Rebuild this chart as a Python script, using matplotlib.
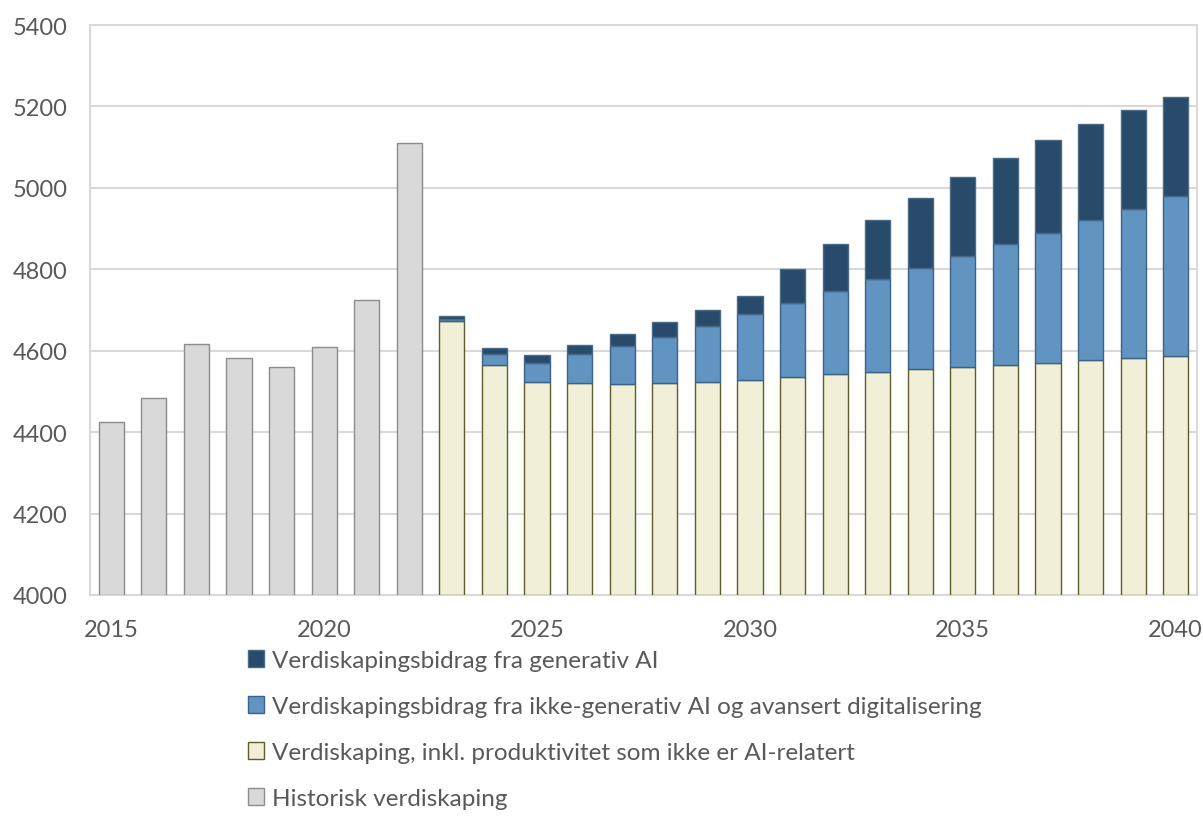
import matplotlib.pyplot as plt
import numpy as np

plt.rcParams["font.family"] = ["Lato", "DejaVu Sans"]

hist_years = np.arange(2015, 2023)
hist_values = [4424, 4484, 4617, 4583, 4560, 4610, 4724, 5111]

proj_years = np.arange(2023, 2041)
base_values = [4672, 4564, 4524, 4520, 4518, 4520, 4523, 4529, 4535,
               4542, 4548, 4554, 4560, 4565, 4571, 4576, 4583, 4588]
nongen_ai = [5, 29, 47, 71, 93, 114, 137, 160, 183,
             205, 227, 249, 273, 296, 319, 344, 366, 392]
gen_ai = [8, 13, 18, 23, 29, 36, 40, 46, 83,
          116, 145, 172, 193, 213, 228, 237, 243, 244]

labels = [
    "Verdiskapingsbidrag fra generativ AI",
    "Verdiskapingsbidrag fra ikke-generativ AI og avansert digitalisering",
    "Verdiskaping, inkl. produktivitet som ikke er AI-relatert",
    "Historisk verdiskaping",
]

DARK = "#284b6b"
BLUE = "#6194c1"
BEIGE = "#f1efd7"
GREY = "#d9d9d9"
TEXT = "#595959"
GRID = "#d9d9d9"

fig = plt.figure(figsize=(12.03, 8.37), dpi=100)
ax = fig.add_axes([90 / 1203, 1 - 596 / 837, 1107 / 1203, 570 / 837])

width = 0.59
base = np.array(base_values)
mid = base + np.array(nongen_ai)

h_hist = ax.bar(hist_years, np.array(hist_values) - 4000, width, bottom=4000,
                color=GREY, edgecolor="#8c8c8c", linewidth=1.0, zorder=3)
h_base = ax.bar(proj_years, base - 4000, width, bottom=4000,
                color=BEIGE, edgecolor="#5e5e2c", linewidth=1.0, zorder=3)
h_nongen = ax.bar(proj_years, nongen_ai, width, bottom=base,
                  color=BLUE, edgecolor="#3b6386", linewidth=1.0, zorder=3)
h_gen = ax.bar(proj_years, gen_ai, width, bottom=mid,
               color=DARK, edgecolor="#4a6a8a", linewidth=1.0, zorder=3)

ax.set_xlim(2014.5, 2040.5)
ax.set_ylim(4000, 5400)
ax.set_yticks(np.arange(4000, 5401, 200))
ax.set_xticks(np.arange(2015, 2041, 5))
ax.grid(axis="y", color=GRID, linewidth=1.5, zorder=0)
ax.tick_params(length=0, labelsize=17, colors=TEXT)
ax.tick_params(axis="y", pad=16)
ax.tick_params(axis="x", pad=17)
for s in ax.spines.values():
    s.set_color(GRID)
    s.set_linewidth(1.5)

fig.legend([h_gen, h_nongen, h_base, h_hist], labels,
           loc="upper left", bbox_to_anchor=(238 / 1203, 1 - 641 / 837),
           frameon=False, fontsize=17.5, labelcolor=TEXT,
           handlelength=0.68, handleheight=0.68, handletextpad=0.3,
           labelspacing=1.03, borderaxespad=0)

fig.savefig("out.png", dpi=100)
